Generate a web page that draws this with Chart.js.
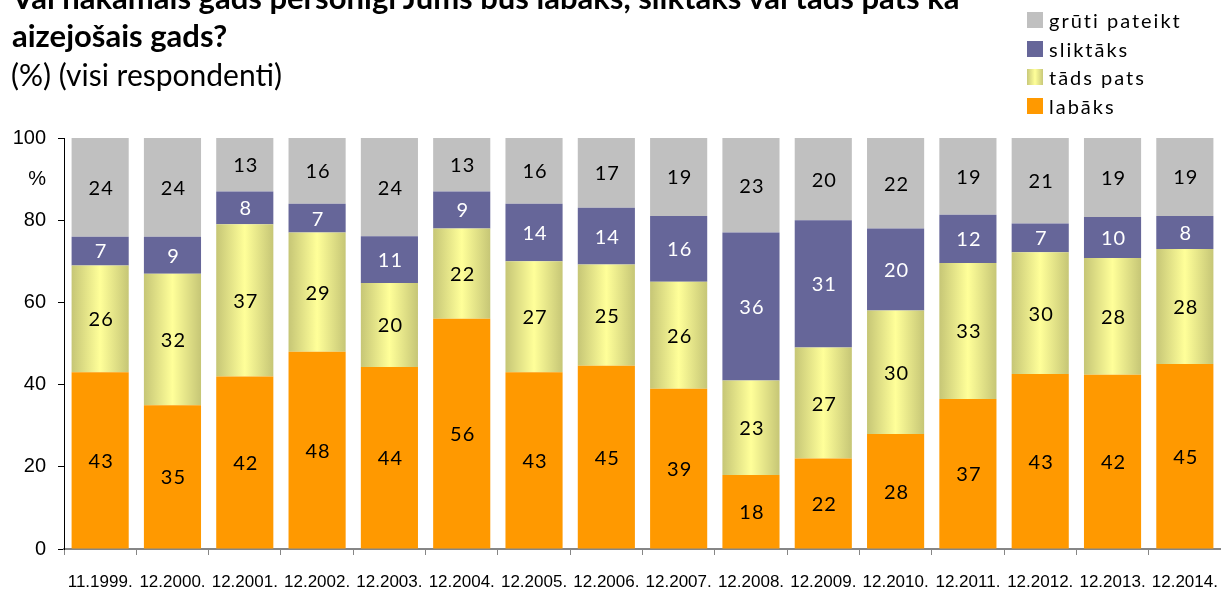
<!DOCTYPE html>
<html lang="lv">
<head>
    <meta charset="UTF-8">
    <title>Vai nākamais gads personīgi Jums būs labāks</title>
    <script src="https://cdn.jsdelivr.net/npm/chart.js"></script>
    <style>
        * {
            margin: 0;
            padding: 0;
        }
        body {
            background: #fff;
            font-family: Lato, sans-serif;
            color: #000;
        }
        #wrap {
            position: relative;
            width: 1221px;
            height: 591px;
            overflow: hidden;
        }
        #chartBox {
            position: absolute;
            left: 0;
            top: 0;
            width: 1221px;
            height: 591px;
        }
        .title {
            position: absolute;
            left: 12px;
            font-weight: bold;
            font-size: 31px;
            line-height: 1;
            white-space: nowrap;
        }
        .sub {
            position: absolute;
            left: 11px;
            top: 59px;
            font-size: 30px;
            line-height: 1;
            white-space: nowrap;
        }
        #legend {
            position: absolute;
            left: 1027px;
            top: 12px;
        }
        #legend div {
            height: 28.5px;
            font-size: 20px;
            letter-spacing: 2px;
            line-height: 16px;
            white-space: nowrap;
        }
        #legend span {
            display: inline-block;
            width: 16px;
            height: 16px;
            margin-right: 6px;
            vertical-align: top;
        }
    </style>
</head>
<body>
<div id="wrap">
    <div id="chartBox"><canvas id="c"></canvas></div>
    <div class="title" style="top:-18px">Vai nākamais gads personīgi Jums būs labāks, sliktāks vai tāds pats kā</div>
    <div class="title" style="top:20px">aizejošais gads?</div>
    <div class="sub">(%) (visi respondenti)</div>
    <div id="legend">
        <div><span style="background:#C0C0C0"></span>grūti pateikt</div>
        <div><span style="background:#666699"></span>sliktāks</div>
        <div><span style="background:linear-gradient(to right,#C9C97A,#FFFF99,#C9C97A)"></span>tāds pats</div>
        <div><span style="background:#FF9900"></span>labāks</div>
    </div>
</div>

<script>
    const labels = ['11.1999.', '12.2000.', '12.2001.', '12.2002.', '12.2003.', '12.2004.', '12.2005.', '12.2006.',
        '12.2007.', '12.2008.', '12.2009.', '12.2010.', '12.2011.', '12.2012.', '12.2013.', '12.2014.'];

    const labaks   = [43, 35, 42, 48, 44.3, 56, 43, 44.6, 39, 18, 22, 28, 36.5, 42.6, 42.4, 45];
    const tadsPats = [26, 32, 37, 29, 20.4, 22, 27, 24.6, 26, 23, 27, 30, 33.1, 29.6, 28.4, 28];
    const sliktaks = [7, 9, 8, 7, 11.4, 9, 14, 13.8, 16, 36, 31, 20, 11.7, 7.0, 10.0, 8];
    const grutiPat = [24, 24, 13, 16, 23.9, 13, 16, 17, 19, 23, 20, 22, 18.7, 20.8, 19.2, 19];

    const yTicks = [0, 20, 40, 60, 80, 100];

    const BAR_PCT = 0.79;

    function yellowFill(c) {
        const chart = c.chart;
        const sx = chart.scales.x;
        if (!chart.chartArea || !sx || c.dataIndex === undefined) return '#FFFF99';
        const x = sx.getPixelForValue(c.dataIndex);
        const half = sx.width / labels.length * BAR_PCT / 2;
        const g = chart.ctx.createLinearGradient(x - half, 0, x + half, 0);
        g.addColorStop(0, '#C6C676');
        g.addColorStop(0.5, '#FFFF99');
        g.addColorStop(1, '#C6C676');
        return g;
    }

    // value labels in the middle of each segment
    const segLabels = {
        id: 'segLabels',
        afterDatasetsDraw(chart) {
            const ctx = chart.ctx;
            ctx.save();
            ctx.font = '20px Lato';
            ctx.letterSpacing = '1px';
            ctx.textAlign = 'center';
            ctx.textBaseline = 'middle';
            chart.data.datasets.forEach((ds, i) => {
                const meta = chart.getDatasetMeta(i);
                ctx.fillStyle = ds.labelColor;
                meta.data.forEach((el, j) => {
                    const p = el.getProps(['x', 'y', 'base'], true);
                    ctx.fillText(String(Math.round(ds.data[j])), p.x + 1, (p.y + p.base) / 2 + 1);
                });
            });
            ctx.restore();
        }
    };

    new Chart(document.getElementById('c'), {
        type: 'bar',
        data: {
            labels: labels,
            datasets: [
                { label: 'labāks', data: labaks, backgroundColor: '#FF9900', labelColor: '#000' },
                { label: 'tāds pats', data: tadsPats, backgroundColor: yellowFill, labelColor: '#000' },
                { label: 'sliktāks', data: sliktaks, backgroundColor: '#666699', labelColor: '#fff' },
                { label: 'grūti pateikt', data: grutiPat, backgroundColor: '#C0C0C0', labelColor: '#000' }
            ]
        },
        options: {
            responsive: true,
            maintainAspectRatio: false,
            animation: false,
            layout: {
                padding: { top: 138, left: 0, right: -3, bottom: 0 }
            },
            datasets: {
                bar: {
                    barPercentage: BAR_PCT,
                    categoryPercentage: 1,
                    borderWidth: 0
                }
            },
            plugins: {
                legend: { display: false },
                tooltip: { enabled: false }
            },
            scales: {
                x: {
                    stacked: true,
                    afterFit(s) { s.paddingLeft = 0; s.paddingRight = 0; s.height = 42; },
                    border: { color: '#868686', width: 2 },
                    grid: {
                        offset: true,
                        drawOnChartArea: false,
                        tickLength: 6,
                        color: '#868686'
                    },
                    ticks: {
                        autoSkip: false,
                        maxRotation: 0,
                        minRotation: 0,
                        padding: 17,
                        color: '#000',
                        font: { family: 'Liberation Sans', size: 17 }
                    }
                },
                y: {
                    stacked: true,
                    min: 0,
                    max: 100,
                    afterFit(s) { s.width = 64; },
                    border: { color: '#000', width: 1 },
                    grid: {
                        drawOnChartArea: false,
                        tickLength: 6,
                        color: c => yTicks.includes(c.tick.value) ? '#000' : 'rgba(0,0,0,0)'
                    },
                    ticks: {
                        stepSize: 10,
                        padding: 12,
                        color: '#000',
                        font: { family: 'Liberation Sans', size: 20 },
                        callback: v => yTicks.includes(v) ? v : (v === 90 ? '%' : '')
                    }
                }
            }
        },
        plugins: [segLabels]
    });
</script>
</body>
</html>
